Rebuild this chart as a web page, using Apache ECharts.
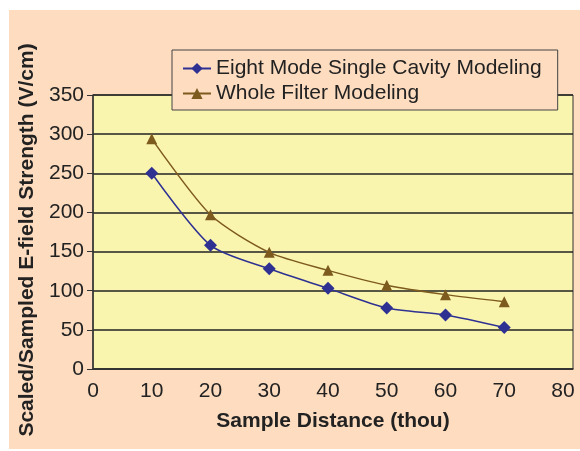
<!DOCTYPE html>
<html>
<head>
<meta charset="UTF-8">
<title>E-field Strength vs Sample Distance</title>
<script src="https://cdn.jsdelivr.net/npm/echarts@6/dist/echarts.min.js"></script>
<style>
  html, body { margin: 0; padding: 0; background: #ffffff; }
  #main { width: 580px; height: 451px; }
</style>
</head>
<body>
<div id="main"></div>
<script>
// data
var distance = [10, 20, 30, 40, 50, 60, 70];
var eightMode = [250, 158, 128, 103, 78, 69, 53];
var wholeFilter = [294, 197, 149, 126, 107, 95, 86];
var seriesNames = ['Eight Mode Single Cavity Modeling', 'Whole Filter Modeling'];

var peach = '#fddcbf';
var font = 'Liberation Sans, Arial, sans-serif';

function pairs(xs, ys) {
    return xs.map(function (x, i) { return [x, ys[i]]; });
}

var chart = echarts.init(document.getElementById('main'));
chart.setOption({
    backgroundColor: '#ffffff',
    animation: false,
    textStyle: { fontFamily: font },
    graphic: [{
        type: 'rect',
        z: -10,
        shape: { x: 9, y: 10, width: 571, height: 439 },
        style: { fill: peach }
    }],
    grid: {
        left: 93, right: 7, top: 95, bottom: 82,
        show: true,
        backgroundColor: '#faf5ae',
        borderColor: '#333333',
        borderWidth: 1
    },
    legend: {
        orient: 'vertical',
        left: 172, top: 50,
        padding: [8, 16, 6, 10],
        itemGap: 4,
        itemWidth: 28, itemHeight: 14,
        backgroundColor: peach,
        borderColor: '#444444',
        borderWidth: 1,
        textStyle: { fontSize: 21, color: '#222222', fontFamily: font },
        data: seriesNames
    },
    xAxis: {
        type: 'value',
        min: 0, max: 81.7, interval: 10,
        name: 'Sample Distance (thou)',
        nameLocation: 'middle',
        nameGap: 42,
        nameTextStyle: { fontSize: 21, fontWeight: 'bold', color: '#222222', fontFamily: font },
        axisLine: { show: true, lineStyle: { color: '#333333', width: 1.5 } },
        axisTick: { show: false },
        axisLabel: {
            fontSize: 21, color: '#222222', margin: 12, fontFamily: font,
            showMaxLabel: false,
            formatter: function (v) { return v % 10 === 0 ? v : ''; }
        },
        splitLine: { show: false }
    },
    yAxis: {
        type: 'value',
        min: 0, max: 350, interval: 50,
        name: 'Scaled/Sampled E-field Strength (V/cm)',
        nameLocation: 'middle',
        nameGap: 51,
        nameTextStyle: { fontSize: 21, fontWeight: 'bold', color: '#222222', fontFamily: font, padding: [0, 16, 0, 0] },
        axisLine: { show: true, lineStyle: { color: '#333333', width: 1.5 } },
        axisTick: { show: true, inside: false, length: 6, lineStyle: { color: '#333333' } },
        axisLabel: { fontSize: 21, color: '#222222', margin: 9, fontFamily: font },
        splitLine: { show: true, lineStyle: { color: '#222222', width: 1.5 } }
    },
    series: [
        {
            name: seriesNames[0],
            type: 'line',
            smooth: 0.25,
            data: pairs(distance, eightMode),
            symbol: 'diamond',
            symbolSize: 13,
            itemStyle: { color: '#2e3192' },
            lineStyle: { color: '#2e3192', width: 1.5 }
        },
        {
            name: seriesNames[1],
            type: 'line',
            smooth: 0.25,
            data: pairs(distance, wholeFilter),
            symbol: 'triangle',
            symbolSize: 11,
            itemStyle: { color: '#7d5a1e' },
            lineStyle: { color: '#7d5a1e', width: 1.5 }
        }
    ]
});
</script>
</body>
</html>
